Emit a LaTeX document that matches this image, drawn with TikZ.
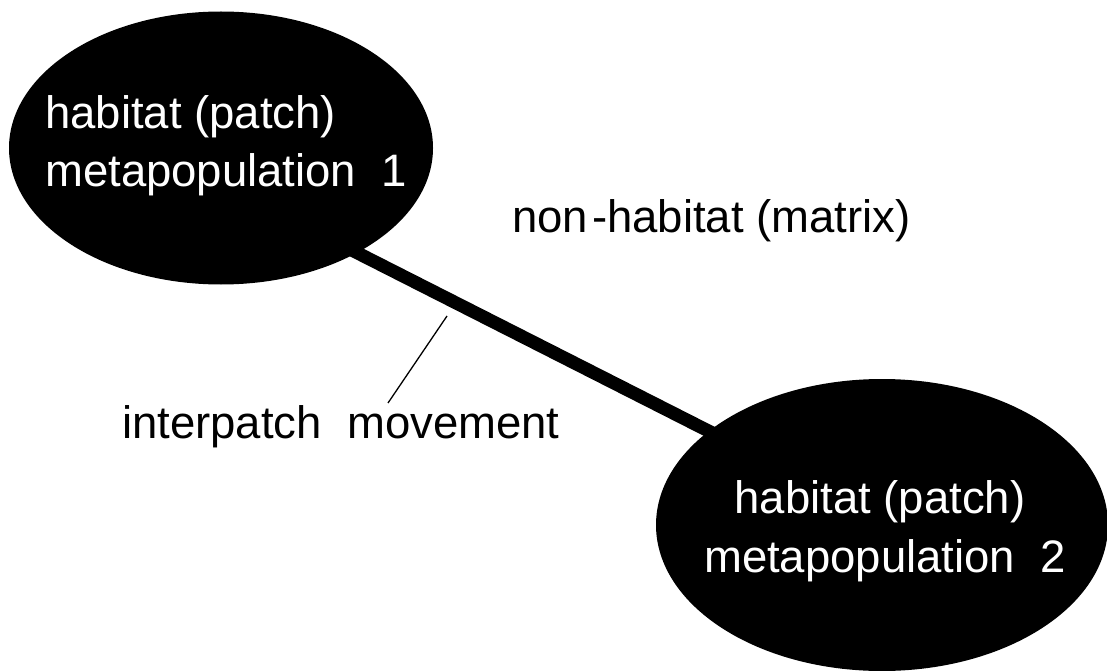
\documentclass[tikz,border=0pt]{standalone}
\usepackage{fontspec}
\setmainfont{Liberation Sans}
\usetikzlibrary{shapes.geometric}
\begin{document}
\begin{tikzpicture}[x=1pt,y=-1pt,
  patch/.style={ellipse,fill=black,draw=none,inner sep=0pt},
  patchtext/.style={text=white,inner sep=0pt,font=\fontsize{45.5}{56}\selectfont},
  plaintext/.style={text=black,inner sep=0pt,font=\fontsize{45.5}{56}\selectfont},
  corridor/.style={line width=13pt},
  leader/.style={line width=1.3pt}]
\useasboundingbox (0,0) rectangle (1107,671);
\clip (0,0) rectangle (1107,671);

% habitat patches
\node[patch,minimum width=424pt,minimum height=273pt] (p1) at (221,148) {};
\node[patch,minimum width=452pt,minimum height=292pt] (p2) at (882,525) {};

% movement corridor between the patches
\draw[corridor] ([shift={(40,56)}]p1.center) -- ([shift={(0,-6)}]p2.center);

% patch labels
\node[patchtext,anchor=base west] (t1a) at (45,129) {habitat (patch)};
\node[patchtext,anchor=base west] (t1b) at (45,186) {metapopulation\ \ 1};
\node[patchtext,anchor=base] (t2a) at (880,513) {habitat (patch)};
\node[patchtext,anchor=base] (t2b) at (885,572) {metapopulation\ \ 2};

% matrix label
\node[plaintext,anchor=base west] (mx) at (512,232) {non\kern4pt-habitat (matrix)};

% corridor label with leader line
\node[plaintext,anchor=base west] (mv) at (122,438) {interpatch\ \ movement};
\coordinate (lt) at (447,316);
\coordinate (lb) at (388,403);
\draw[leader] (lb) -- (lt);
\end{tikzpicture}
\end{document}
